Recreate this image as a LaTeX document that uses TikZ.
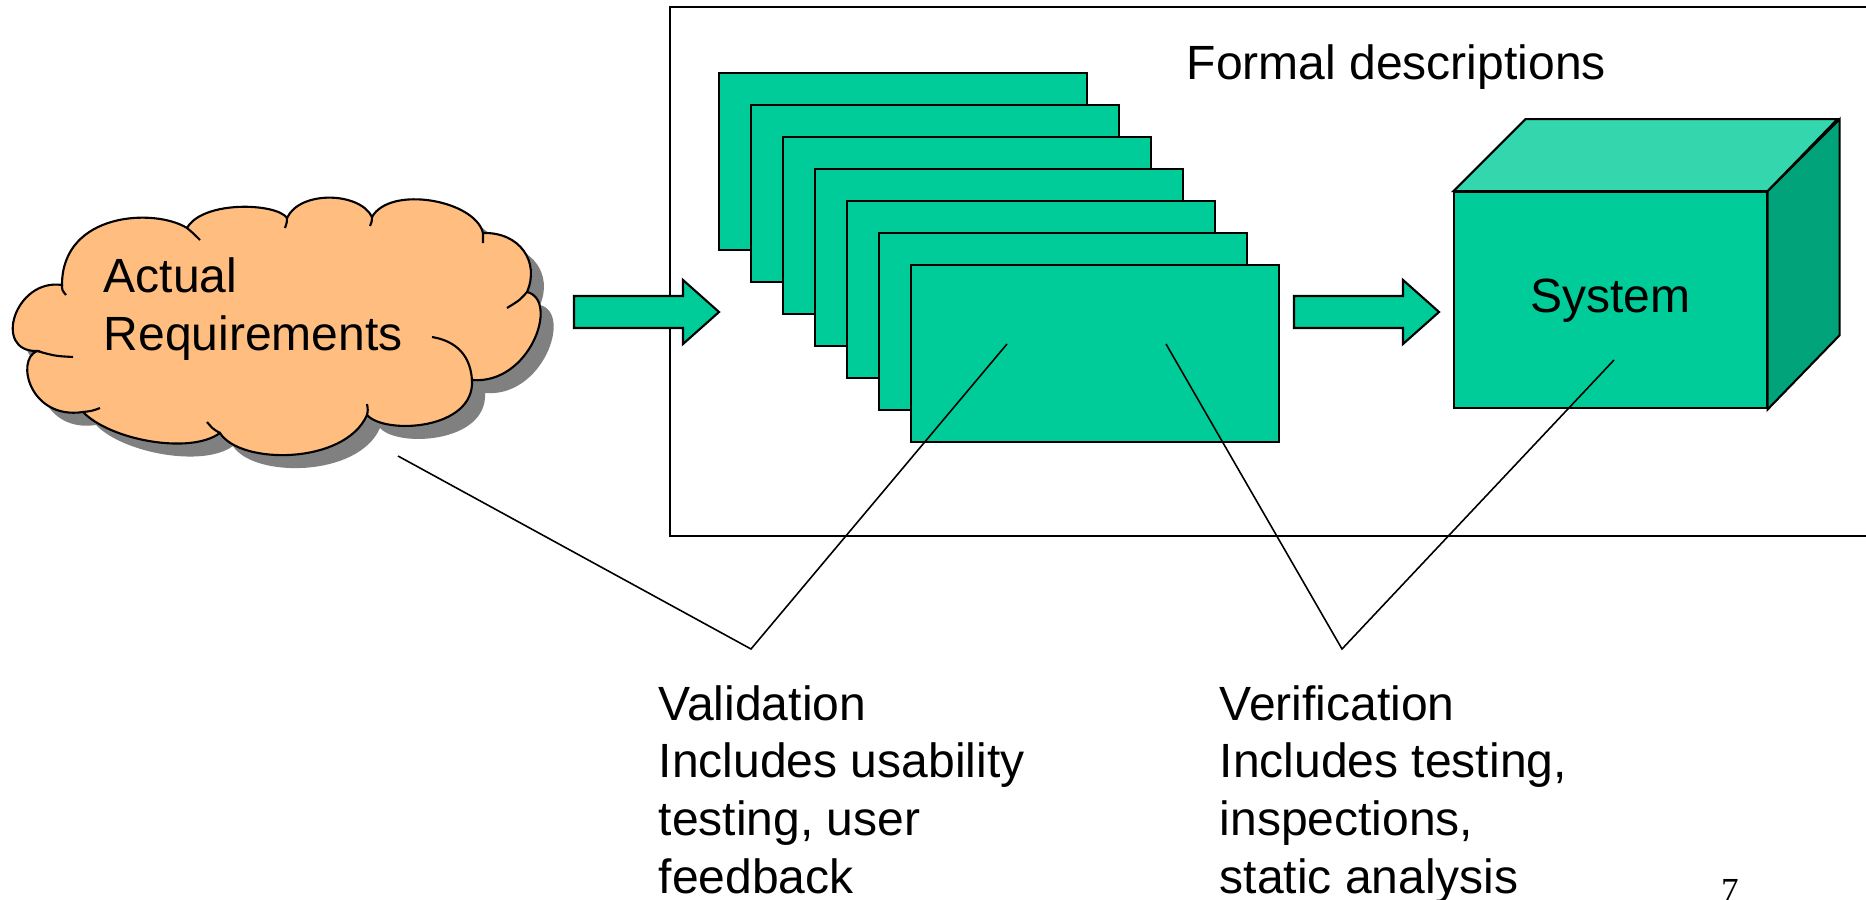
\documentclass[tikz,border=0pt]{standalone}
\usepackage{fontspec}
\setmainfont{Liberation Sans}
\newfontfamily\numfont{Liberation Serif}

\definecolor{specgreen}{RGB}{0,204,153}
\definecolor{specgreentop}{RGB}{51,214,173}
\definecolor{specgreenside}{RGB}{0,163,122}
\definecolor{cloudorange}{RGB}{255,190,128}
\definecolor{cloudshade}{RGB}{128,128,128}

\newcommand\slidefont{\fontsize{13.66pt}{16.36pt}\selectfont}

% outline of the requirements cloud, one curve per bump
\newcommand\cloudpath{(187,228)
  .. controls (155,208) and (62,212) .. (62,285)
  .. controls (15,278) and (-8,352) .. (37,351)
  .. controls (15,360) and (30,420) .. (83,412)
  .. controls (110,440) and (190,455) .. (220,433)
  .. controls (240,465) and (345,465) .. (367,415)
  .. controls (385,435) and (475,430) .. (472,380)
  .. controls (530,385) and (560,300) .. (527,292)
  .. controls (540,262) and (520,232) .. (483,233)
  .. controls (475,200) and (390,185) .. (372,217)
  .. controls (360,192) and (300,190) .. (287,218)
  .. controls (277,203) and (203,200) .. (187,228) -- cycle}

\tikzset{
  outline/.style={draw=black, line width=0.6pt},
  sheet/.style={outline, fill=specgreen, rectangle, inner sep=0pt,
    minimum width=3.68cm, minimum height=1.765cm, anchor=north west},
  leader/.style={black, line width=0.45pt},
  frame/.style={black, line width=0.55pt},
  slidetext/.style={align=left, inner sep=0pt, font=\slidefont},
}

\begin{document}
\begin{tikzpicture}[x=0.01cm, y=-0.01cm]
	\useasboundingbox (0,0) rectangle (1866,900);

	% box round the formal descriptions
	\draw[frame] (1866,7) -| (670,536) -- (1866,536);
	\node[slidetext, anchor=base west] (formal) at (1186,80) {Formal descriptions};

	% block arrows
	\foreach \ax in {574,1294}
		\filldraw[outline, fill=specgreen] (\ax,296) -- ++(109,0) -- ++(0,-16) -- ++(36,32)
			-- ++(-36,32) -- ++(0,-16) -- ++(-109,0) -- cycle;

	% stack of specification sheets
	\foreach \i in {0,...,6}
		\node[sheet] (d\i) at ({718+32*\i},{72+32*\i}) {};

	% system cube
	\node[outline, fill=specgreen, minimum width=3.12cm, minimum height=2.16cm,
		inner sep=0pt, font=\slidefont] (sys) at (1610.5,300.3) {System};
	\filldraw[outline, fill=specgreentop] (sys.north west) -- ++(72,-72) -- ++(312,0)
		-- (sys.north east) -- cycle;
	\filldraw[outline, fill=specgreenside] (sys.north east) -- ++(72,-72) -- ++(0,216)
		-- (sys.south east) -- cycle;

	% cloud with its shadow
	\fill[cloudshade, shift={(13,13)}] \cloudpath;
	\filldraw[outline, fill=cloudorange] \cloudpath;
	\draw[outline] (62,285) .. controls (62,290) .. (66,295)
		(37,351) .. controls (55,356) .. (73,357)
		(83,412) .. controls (92,411) .. (100,408)
		(220,433) .. controls (213,429) .. (207,422)
		(367,415) .. controls (368,410) .. (367,404)
		(472,380) .. controls (470,350) and (450,340) .. (432,337)
		(527,292) .. controls (520,300) .. (507,308)
		(483,233) .. controls (484,238) .. (483,243)
		(372,217) .. controls (372,221) .. (370,226)
		(287,218) .. controls (287,222) .. (285,228)
		(187,228) .. controls (193,233) .. (200,240);
	% base of a two-line node is the last line
	\node[slidetext, anchor=base west] (req) at (103,350) {Actual\\Requirements};

	% validation and verification
	\coordinate (reqpt) at (398,456);
	\coordinate (valtip) at (751,649);
	\coordinate (specA) at (1007,344);
	\coordinate (specB) at (1166,344);
	\coordinate (vertip) at (1342,649);
	\coordinate (syspt) at (1614,360);
	\draw[leader] (reqpt) -- (valtip) -- (specA);
	\draw[leader] (specB) -- (vertip) -- (syspt);

	\node[slidetext, anchor=base west] (val) at (658,893)
		{Validation\\Includes usability\\testing, user\\feedback};
	\node[slidetext, anchor=base west] (ver) at (1219,893)
		{Verification\\Includes testing,\\inspections,\\static analysis};

	\node[inner sep=0pt, anchor=base, font=\numfont\fontsize{10pt}{10pt}\selectfont] (pg) at (1730,902) {7};

\end{tikzpicture}
\end{document}
